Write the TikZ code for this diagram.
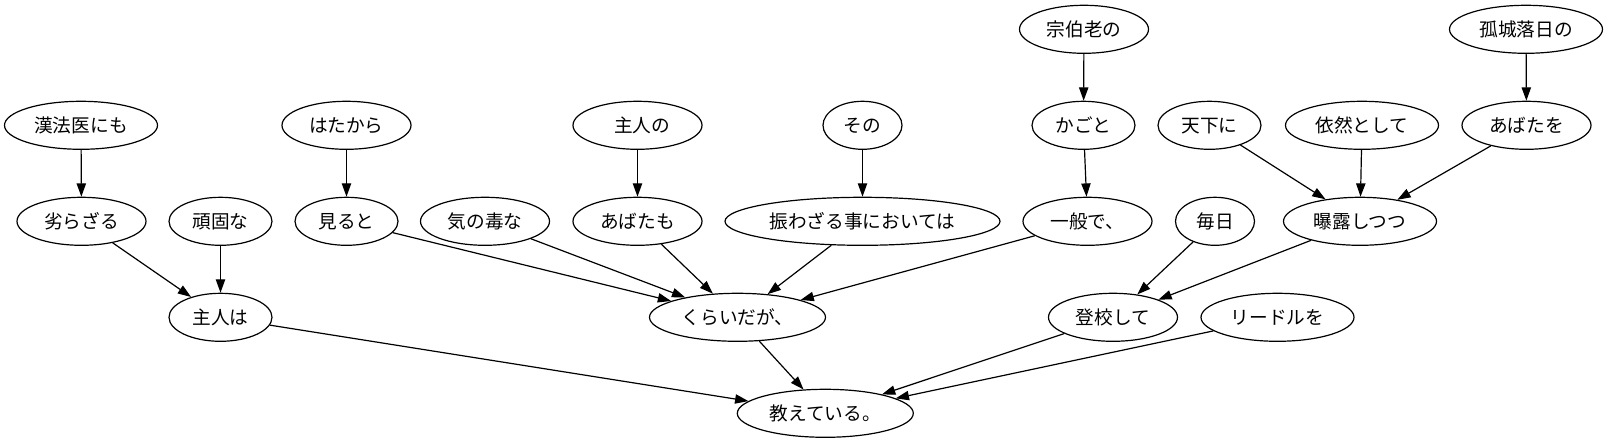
\documentclass[tikz,border=0pt]{standalone}
\usepackage{fontspec}
\setmainfont{Noto Sans CJK JP}
\usetikzlibrary{shapes.geometric,arrows.meta}
\tikzset{
  wnode/.style={draw, ellipse, line width=1.2pt, inner sep=0pt,
    minimum height=48pt, text height=16.4pt, text depth=2.2pt,
    font=\fontsize{18.67pt}{20pt}\selectfont},
  wtwo/.style={wnode, minimum width=79pt},
  wthree/.style={wnode, minimum width=103pt},
  wfour/.style={wnode, minimum width=129pt},
  wfive/.style={wnode, minimum width=153pt},
  wsix/.style={wnode, minimum width=176pt},
  wten/.style={wnode, minimum width=275pt},
  dep/.style={line width=1.2pt, -{Triangle[length=13.3pt,width=9.3pt]}}
}
\begin{document}
\begin{tikzpicture}[x=1pt,y=-1pt]
\useasboundingbox (0,0) rectangle (1609,443);
% row 0
\node[wfour] (soh) at (1084,29.3) {宗伯老の};
\node[wfive] (koj) at (1526,29.3) {孤城落日の};
% row 1
\node[wfive] (kan) at (81,125.3) {漢法医にも};
\node[wfour] (hat) at (346.5,125.3) {はたから};
\node[wfour] (shn) at (637.5,125.3) {\hspace{9.3pt}主人の};
\node[wtwo] (son) at (862.5,125.3) {その};
\node[wthree] (kag) at (1083.5,125.3) {かごと};
\node[wthree] (ten) at (1209.5,125.3) {天下に};
\node[wfive] (izn) at (1362,125.3) {依然として};
\node[wfour] (abo) at (1526.5,125.3) {あばたを};
% row 2
\node[wfour] (oto) at (81.5,221.3) {劣らざる};
\node[wthree] (gan) at (220.5,221.3) {頑固な};
\node[wthree] (mir) at (346.5,221.3) {見ると};
\node[wfour] (kin) at (485,221.3) {気の毒な};
\node[wfour] (abm) at (637.5,221.3) {あばたも};
\node[wten] (fur) at (862.5,221.3) {振わざる事においては};
\node[wfour] (ipp) at (1087.5,221.3) {一般で、};
\node[wtwo] (mai) at (1215,221.3) {毎日};
\node[wfive] (bak) at (1360,221.3) {曝露しつつ};
% row 3
\node[wthree] (shw) at (220.5,317.3) {主人は};
\node[wsix] (kur) at (737.5,317.3) {くらいだが、};
\node[wfour] (tok) at (1113,317.3) {登校して};
\node[wfive] (rid) at (1277.5,317.3) {リードルを};
% row 4
\node[wsix] (osh) at (825.3,413.3) {教えている。};
% edges
\draw[dep] (kan) -- (oto);
\draw[dep] (oto) -- (shw);
\draw[dep] (gan) -- (shw);
\draw[dep] (hat) -- (mir);
\draw[dep] (mir) -- (kur);
\draw[dep] (kin) -- (kur);
\draw[dep] (shn) -- (abm);
\draw[dep] (abm) -- (kur);
\draw[dep] (son) -- (fur);
\draw[dep] (fur) -- (kur);
\draw[dep] (soh) -- (kag);
\draw[dep] (kag) -- (ipp);
\draw[dep] (ipp) -- (kur);
\draw[dep] (shw) -- (osh);
\draw[dep] (kur) -- (osh);
\draw[dep] (mai) -- (tok);
\draw[dep] (bak) -- (tok);
\draw[dep] (ten) -- (bak);
\draw[dep] (izn) -- (bak);
\draw[dep] (koj) -- (abo);
\draw[dep] (abo) -- (bak);
\draw[dep] (tok) -- (osh);
\draw[dep] (rid) -- (osh);
\end{tikzpicture}
\end{document}
